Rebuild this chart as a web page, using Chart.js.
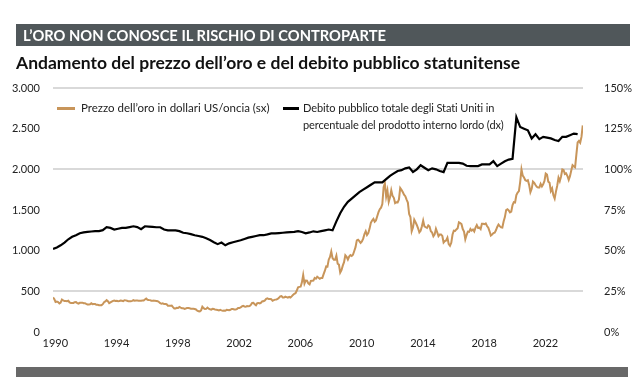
<!DOCTYPE html>
<html lang="it">
<head>
    <meta charset="UTF-8">
    <title>L'oro non conosce il rischio di controparte</title>
    <script src="https://cdn.jsdelivr.net/npm/chart.js"></script>
    <style>
        body { margin: 0; background: #fff; font-family: Lato, sans-serif; }
        #wrap { position: relative; width: 644px; height: 382px; overflow: hidden; }
        #myChart { position: absolute; left: 0; top: 0; }
        .bar { position: absolute; left: 16px; top: 24px; width: 614px; height: 22px; background: #50575a; }
        .bar span { position: absolute; left: 7px; top: 2px; color: #fff; font-weight: 700; font-size: 14.7px; }
        .sub { position: absolute; left: 16px; top: 52px; font-weight: 700; font-size: 17.5px; color: #111; }
        .foot { position: absolute; left: 16px; top: 367px; width: 612px; height: 10px; background: #686868; }
        .leg { position: absolute; color: #222; line-height: 17px; }
        .leg i { position: absolute; height: 2.5px; }
    </style>
</head>
<body>
<div id="wrap">
    <canvas id="myChart" width="644" height="382"></canvas>
    <div class="bar"><span>L’ORO NON CONOSCE IL RISCHIO DI CONTROPARTE</span></div>
    <div class="sub">Andamento del prezzo dell’oro e del debito pubblico statunitense</div>
    <div class="leg" style="left:57px;top:99px;font-size:11.5px;"><i style="left:0;top:8px;width:18px;background:#c8955a;"></i><span style="margin-left:24px">Prezzo dell’oro in dollari US/oncia (sx)</span></div>
    <div class="leg" style="left:283px;top:99px;font-size:11px;letter-spacing:-0.1px;"><i style="left:0;top:8px;width:16px;background:#000;"></i><div style="margin-left:20px">Debito pubblico totale degli Stati Uniti in<br>percentuale del prodotto interno lordo (dx)</div></div>
    <div class="foot"></div>
</div>

<script>
    // prezzo dell'oro, USD/oncia, mensile da gennaio 1990
    const goldPrice = [
        425, 405, 370, 375, 368, 352, 362, 400, 388, 380, 381, 378,
        384, 364, 356, 358, 357, 367, 368, 356, 349, 359, 360, 361,
        354, 354, 345, 338, 337, 341, 353, 343, 345, 344, 335, 334,
        329, 329, 330, 342, 367, 376, 392, 379, 355, 365, 374, 383,
        387, 382, 384, 378, 381, 386, 385, 380, 391, 389, 384, 379,
        379, 377, 382, 391, 385, 387, 386, 383, 383, 383, 386, 387,
        400, 412, 396, 393, 392, 385, 383, 387, 383, 381, 378, 369,
        355, 347, 352, 344, 344, 341, 324, 324, 323, 325, 306, 289,
        289, 297, 296, 308, 299, 292, 293, 284, 289, 296, 294, 291,
        287, 287, 286, 282, 277, 262, 256, 254, 265, 311, 293, 283,
        284, 300, 286, 280, 275, 285, 282, 275, 273, 270, 266, 272,
        266, 262, 263, 261, 272, 270, 268, 273, 283, 283, 276, 276,
        282, 296, 294, 302, 314, 322, 314, 310, 319, 317, 319, 333,
        357, 359, 340, 328, 355, 356, 351, 360, 379, 379, 389, 407,
        414, 405, 406, 404, 384, 392, 398, 400, 406, 420, 439, 442,
        424, 423, 434, 429, 422, 431, 424, 438, 456, 470, 476, 510,
        549, 555, 557, 610, 700, 596, 633, 632, 598, 585, 627, 629,
        631, 665, 655, 679, 667, 655, 665, 665, 712, 754, 806, 803,
        889, 922, 990, 909, 888, 889, 939, 839, 829, 730, 760, 816,
        858, 943, 924, 890, 928, 946, 934, 949, 996, 1043, 1127, 1134,
        1118, 1095, 1113, 1148, 1205, 1240, 1193, 1215, 1271, 1343, 1370, 1391,
        1356, 1372, 1424, 1474, 1510, 1529, 1573, 1780, 1830, 1665, 1739, 1600,
        1656, 1743, 1674, 1650, 1585, 1596, 1594, 1630, 1770, 1747, 1721, 1688,
        1670, 1628, 1592, 1450, 1414, 1240, 1286, 1380, 1349, 1316, 1275, 1225,
        1244, 1300, 1370, 1299, 1288, 1279, 1311, 1296, 1238, 1222, 1176, 1200,
        1270, 1227, 1179, 1198, 1199, 1181, 1100, 1117, 1125, 1159, 1080, 1060,
        1097, 1199, 1246, 1243, 1261, 1276, 1350, 1341, 1326, 1266, 1236, 1140,
        1192, 1234, 1231, 1266, 1246, 1260, 1236, 1283, 1315, 1280, 1283, 1265,
        1331, 1331, 1325, 1335, 1303, 1282, 1238, 1185, 1198, 1215, 1221, 1250,
        1291, 1320, 1301, 1286, 1284, 1359, 1413, 1500, 1510, 1495, 1471, 1480,
        1560, 1597, 1592, 1683, 1715, 1732, 1846, 2000, 1922, 1900, 1866, 1858,
        1867, 1808, 1718, 1760, 1850, 1834, 1807, 1785, 1776, 1777, 1821, 1790,
        1817, 1856, 1948, 1937, 1849, 1836, 1733, 1765, 1681, 1640, 1726, 1798,
        1898, 1855, 1913, 1999, 1992, 1942, 1951, 1918, 1870, 1916, 1985, 2050,
        2034, 2024, 2180, 2331, 2350, 2326, 2398, 2540
    ];

    // debito pubblico USA in % del PIL, trimestrale da 1990 T1
    const debtToGdp = [
        51.0, 52.0, 53.3, 55.0,
        57.0, 58.5, 59.5, 60.7,
        61.2, 61.5, 61.8, 62.0,
        62.0, 62.6, 64.4, 64.0,
        63.0, 63.5, 64.0, 64.0,
        64.5, 65.0, 64.5, 63.2,
        65.0, 64.8, 64.6, 64.4,
        64.4, 63.0, 62.5, 62.5,
        62.5, 62.0, 61.0, 60.7,
        60.2, 59.5, 59.0, 58.5,
        57.6, 56.5, 55.2, 54.0,
        55.0, 53.3, 54.5, 55.2,
        55.8, 56.4, 57.2, 58.0,
        58.5, 59.0, 59.5, 59.5,
        60.0, 60.6, 60.6, 60.8,
        61.0, 61.2, 61.4, 61.6,
        62.0, 61.5, 60.7, 61.2,
        61.9, 61.5, 62.0, 62.5,
        63.0, 62.5, 68.0, 73.0,
        77.0, 80.0, 82.0, 84.0,
        86.0, 87.5, 89.0, 90.5,
        92.0, 92.0, 92.0, 94.0,
        96.0, 97.5, 99.0, 99.5,
        100.6, 101.2, 98.4, 100.0,
        102.5, 101.0, 99.5, 100.6,
        100.0, 99.0, 98.3, 104.0,
        104.0, 104.0, 104.0, 103.5,
        102.2, 102.0, 102.0, 102.0,
        103.0, 103.0, 103.0, 105.0,
        102.0, 103.5, 105.0, 106.0,
        106.5, 132.0, 126.0, 125.0,
        124.0, 119.0, 121.6, 118.6,
        120.0, 119.5, 119.0, 118.0,
        117.4, 120.0, 120.0, 121.0,
        122.0, 121.6
    ];

    const startYear = 1990;
    const xTickYears = [1990, 1994, 1998, 2002, 2006, 2010, 2014, 2018, 2022];
    const leftTicks = [0, 500, 1000, 1500, 2000, 2500, 3000];
    const leftTickLabels = ['0', '500', '1.000', '1.500', '2.000', '2.500', '3.000'];
    const rightTicks = [0, 25, 50, 75, 100, 125, 150];
    const rightTickLabels = ['0%', '25%', '50%', '75%', '100%', '125%', '150%'];
    const gridValues = [500, 2000, 3000];

    const goldPoints = goldPrice.map((v, i) => ({ x: startYear + i / 12, y: v }));
    const debtPoints = debtToGdp.map((v, i) => ({ x: startYear + i / 4, y: v }));

    const tickFont = { family: 'Lato', size: 11 };
    const ctx = document.getElementById('myChart').getContext('2d');
    let myChart = new Chart(ctx, {
        type: 'line',
        data: {
            datasets: [{
                label: 'Debito pubblico totale degli Stati Uniti in percentuale del prodotto interno lordo (dx)',
                data: debtPoints,
                yAxisID: 'y1',
                borderColor: '#000',
                borderWidth: 2.2,
                pointRadius: 0,
                tension: 0
            }, {
                label: 'Prezzo dell’oro in dollari US/oncia (sx)',
                data: goldPoints,
                yAxisID: 'y',
                borderColor: '#c8955a',
                borderWidth: 2,
                pointRadius: 0,
                tension: 0
            }]
        },
        options: {
            responsive: false,
            animation: false,
            layout: { padding: { top: 88, left: 0, right: 0, bottom: 0 } },
            plugins: { legend: { display: false }, tooltip: { enabled: false } },
            scales: {
                x: {
                    type: 'linear',
                    min: 1990,
                    max: 2024.6,
                    afterFit: s => { s.height = 50; },
                    afterBuildTicks: s => { s.ticks = xTickYears.map(y => ({ value: y + 0.15 })); },
                    ticks: {
                        color: '#222',
                        font: tickFont,
                        padding: 5,
                        maxRotation: 0,
                        callback: v => String(Math.floor(v))
                    },
                    grid: { display: false, drawTicks: false },
                    border: { display: false }
                },
                y: {
                    position: 'left',
                    min: 0,
                    max: 3000,
                    afterFit: s => { s.width = 53; },
                    afterBuildTicks: s => { s.ticks = leftTicks.map(v => ({ value: v })); },
                    ticks: {
                        color: '#222',
                        font: tickFont,
                        padding: 13,
                        callback: v => leftTickLabels[leftTicks.indexOf(v)]
                    },
                    grid: {
                        drawTicks: false,
                        lineWidth: 2,
                        color: c => gridValues.includes(c.tick.value) ? '#d9d9d9' : 'rgba(0,0,0,0)'
                    },
                    border: { display: false }
                },
                y1: {
                    position: 'right',
                    min: 0,
                    max: 150,
                    afterFit: s => { s.width = 61; },
                    afterBuildTicks: s => { s.ticks = rightTicks.map(v => ({ value: v })); },
                    ticks: {
                        color: '#222',
                        font: tickFont,
                        padding: 13,
                        callback: v => rightTickLabels[rightTicks.indexOf(v)]
                    },
                    grid: { display: false },
                    border: { display: false }
                }
            }
        }
    });
</script>
</body>
</html>
